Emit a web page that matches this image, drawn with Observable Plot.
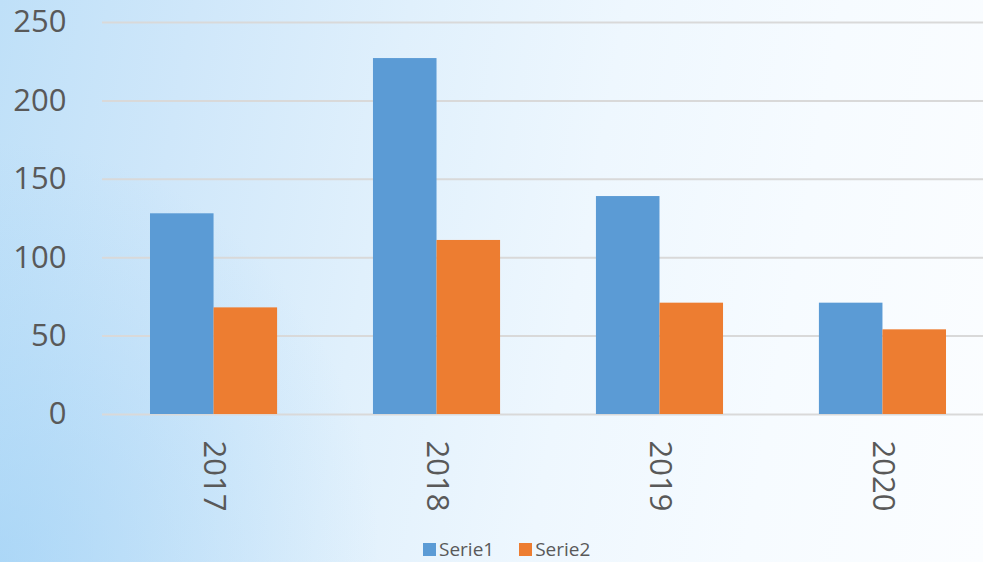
<!DOCTYPE html>
<html>
<head>
<meta charset="utf-8">
<script src="https://cdn.jsdelivr.net/npm/d3@7"></script>
<script src="https://cdn.jsdelivr.net/npm/@observablehq/plot@0.6"></script>
<style>
  html, body { margin: 0; padding: 0; }
  body {
    width: 983px; height: 562px; overflow: hidden;
    font-family: "Open Sans", sans-serif;
    background:
      radial-gradient(ellipse 380px 420px at 0% 100%, rgba(150,205,245,0.55), rgba(150,205,245,0) 100%),
      linear-gradient(100deg, #bfe0f8 0%, #cfe7fa 18%, #e0f0fc 38%, #eef7fe 58%, #f6fbff 78%, #fbfdff 100%);
  }
  #chart svg { display: block; background: transparent; }
  #legendwrap { margin-left: 423px; margin-top: 0; height: 26px; }
  #legendwrap .lg-swatches { margin: 0 !important; min-height: 26px !important; height: 26px; display: flex; align-items: center; font-family: "Open Sans", sans-serif !important; font-size: 19px !important; color: #595959 !important; }
  #legendwrap .lg-swatch { margin-right: 25px !important; display: inline-flex; align-items: center; font-size: 19px !important; }
  #legendwrap .lg-swatch > svg { margin-right: 3px !important; }
</style>
</head>
<body>
<div id="chart"></div>
<div id="legendwrap"></div>
<script>
const years = ["2017", "2018", "2019", "2020"];
const seriesNames = ["Serie1", "Serie2"];
const serie1 = [128, 227, 139, 71];
const serie2 = [68, 111, 71, 54];
const yTicks = [0, 50, 100, 150, 200, 250];
const colors = ["#5b9bd5", "#ed7d31"];

const rows1 = years.map((y, i) => ({year: y, series: seriesNames[0], value: serie1[i]}));
const rows2 = years.map((y, i) => ({year: y, series: seriesNames[1], value: serie2[i]}));

const W = 983, H = 536;
const pIn = 0.43, pOut = 0.2175;
const xRange = [101.5, 994.5];
const step = (xRange[1] - xRange[0]) / (years.length - pIn + 2 * pOut);
const half = step * (1 - pIn) / 2;

const chart = Plot.plot({
  width: W,
  height: H,
  marginLeft: 102,
  marginRight: 0,
  marginTop: 22,
  marginBottom: 122,
  style: {background: "transparent", fontFamily: "Open Sans, sans-serif", color: "#595959"},
  x: {domain: years, range: xRange, paddingInner: pIn, paddingOuter: pOut, align: 0.5, round: false},
  y: {domain: [0, 250]},
  color: {domain: seriesNames, range: colors},
  marks: [
    Plot.ruleY(yTicks, {stroke: "#d9d9d9", strokeWidth: 2}),
    Plot.barY(rows1, {x: "year", y: "value", fill: "series", insetRight: half}),
    Plot.barY(rows2, {x: "year", y: "value", fill: "series", insetLeft: half}),
    Plot.axisY(yTicks, {tickSize: 0, tickPadding: 36, fontSize: 31, fill: "#595959", label: null}),
    Plot.axisX({tickSize: 0, tickPadding: 26, tickRotate: 90, fontSize: 31, fill: "#595959", label: null})
  ]
});
document.getElementById("chart").appendChild(chart);

const legend = Plot.legend({
  legend: "swatches",
  color: {domain: seriesNames, range: colors},
  swatchSize: 13,
  className: "lg"
});
document.getElementById("legendwrap").appendChild(legend);
</script>
</body>
</html>
